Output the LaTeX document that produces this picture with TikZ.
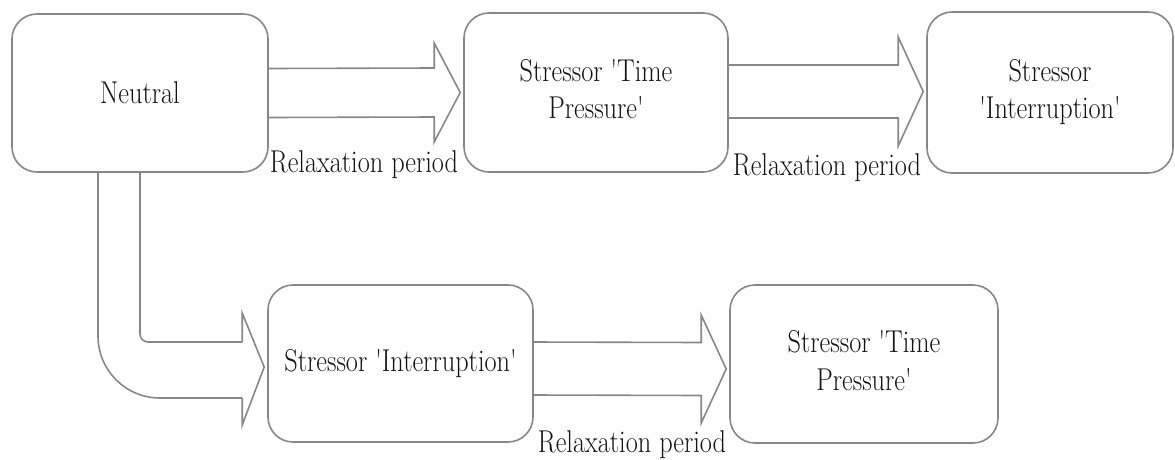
\documentclass[tikz,border=0pt]{standalone}
\usepackage{fontspec}
\usepackage{graphicx}
\usetikzlibrary{calc}
\definecolor{linegray}{RGB}{135,135,135}
\definecolor{txt}{RGB}{20,20,20}
\newcommand\stx[1]{\scalebox{1}[1.2]{#1}}
\newcommand\barrow[6]{%
  \draw[arr] ($(#1.east)+(0,#6-#3)$) -- ($(#2.west)+(-3-#5,#6-#3)$)
    -- ($(#2.west)+(-3-#5,#6-#4)$) -- ($(#2.west)+(-3,#6)$)
    -- ($(#2.west)+(-3-#5,#6+#4)$) -- ($(#2.west)+(-3-#5,#6+#3)$)
    -- ($(#1.east)+(0,#6+#3)$);}
\tikzset{
  box/.style={draw=linegray, line width=1.6pt, rounded corners=25pt,
    inner sep=0pt, text=txt, align=center,
    font=\fontsize{26.3}{31.5}\selectfont},
  arr/.style={draw=linegray, line width=1.6pt, line join=miter},
  lbl/.style={inner sep=0pt, text=txt, font=\fontsize{26.3}{31.5}\selectfont}
}
\begin{document}
\begin{tikzpicture}[x=1pt,y=-1pt]
\useasboundingbox (0,0) rectangle (1175,459);
\node[box, minimum width=256pt, minimum height=158pt] (n1) at (140,93) {\stx{Neutral}};
\node[box, minimum width=264pt, minimum height=159pt] (n2) at (596,92.5)
  {\stx{\begin{tabular}{@{}c@{}}Stressor \textquotesingle Time\\Pressure\textquotesingle\end{tabular}}};
\node[box, minimum width=246pt, minimum height=161pt] (n3) at (1050,92.5)
  {\stx{\begin{tabular}{@{}c@{}}Stressor\\\textquotesingle Interruption\textquotesingle\end{tabular}}};
\node[box, minimum width=265pt, minimum height=157pt] (n4) at (400.5,363.5)
  {\stx{Stressor \textquotesingle Interruption\textquotesingle}};
\node[box, minimum width=268pt, minimum height=158pt] (n5) at (864,364)
  {\stx{\begin{tabular}{@{}c@{}}Stressor \textquotesingle Time\\Pressure\textquotesingle\end{tabular}}};
\barrow{n1}{n2}{24.5}{49.5}{26}{0}
\barrow{n2}{n3}{26.5}{54.5}{25}{-1}
\barrow{n4}{n5}{26.5}{54}{25}{5}
% bent arrow
\draw[arr, rounded corners=62pt] ($(n1.south)+(-42,0)$) |- ($(n4.west)+(-25,34.5)$);
\draw[arr, rounded corners=8pt] (n1.south) |- ($(n4.west)+(-25,-21.5)$);
\draw[arr] ($(n4.west)+(-25,-21.5)$) -- ($(n4.west)+(-25,-50.5)$)
  -- ($(n4.west)+(-3,3.5)$) -- ($(n4.west)+(-25,61.5)$) -- ($(n4.west)+(-25,34.5)$);
\node[lbl] (l1) at (364,165) {\stx{Relaxation period}};
\node[lbl] (l2) at (827,168) {\stx{Relaxation period}};
\node[lbl] (l3) at (632,445) {\stx{Relaxation period}};
\end{tikzpicture}
\end{document}
